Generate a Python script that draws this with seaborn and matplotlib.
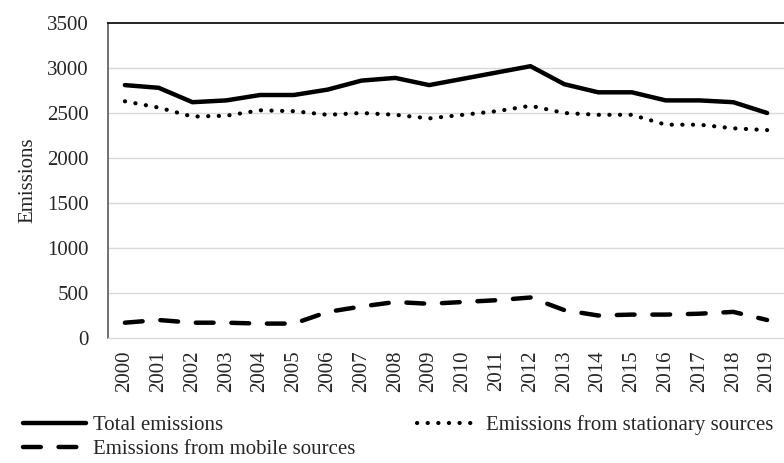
import matplotlib
matplotlib.use("Agg")
import matplotlib.pyplot as plt
import pandas as pd
import seaborn as sns

years = list(range(2000, 2020))
total = [2810, 2780, 2620, 2640, 2700, 2700, 2760, 2860, 2890, 2810,
         2880, 2950, 3020, 2820, 2730, 2730, 2640, 2640, 2620, 2500]
stationary = [2630, 2560, 2460, 2470, 2530, 2520, 2480, 2500, 2480, 2440,
              2480, 2520, 2580, 2500, 2480, 2480, 2370, 2370, 2330, 2310]
mobile = [170, 200, 170, 170, 160, 160, 290, 350, 400, 380,
          400, 420, 450, 310, 250, 260, 260, 270, 290, 200]

labels = ["Total emissions", "Emissions from mobile sources", "Emissions from stationary sources"]


def main() -> None:
    sns.set_theme(style="white")
    plt.rcParams["font.family"] = ["Liberation Serif", "DejaVu Serif"]

    df = pd.DataFrame({"year": years, "total": total, "stationary": stationary, "mobile": mobile})

    fig = plt.figure(figsize=(7.84, 4.63), dpi=100)
    ax = fig.add_axes([108 / 784, 1 - 338 / 463, 1 - 108 / 784, (338 - 23) / 463])

    for y in range(500, 3500, 500):
        ax.axhline(y, color="#d9d9d9", linewidth=1.0, zorder=0)

    sns.lineplot(data=df, x="year", y="total", color="black", linewidth=3.2,
                 solid_capstyle="round", label=labels[0], ax=ax)
    sns.lineplot(data=df, x="year", y="mobile", color="black", linewidth=3.2,
                 linestyle=(0, (4.0, 4.0)), dash_capstyle="round", label=labels[1], ax=ax)
    sns.lineplot(data=df, x="year", y="stationary", color="black", linewidth=3,
                 linestyle=(0, (0.05, 2.5)), dash_capstyle="round", label=labels[2], ax=ax)

    ax.set_xlim(1999.5, 2019.5)
    ax.set_ylim(0, 3500)
    ax.set_xticks(years)
    ax.set_xticklabels([str(y) for y in years], rotation=90, fontsize=15)
    ax.set_yticks(range(0, 3501, 500))
    ax.tick_params(axis="y", labelsize=15, length=0, pad=14)
    ax.tick_params(axis="x", length=0, pad=9)
    ax.set_xlabel("")
    ax.set_ylabel("Emissions", fontsize=15, labelpad=7)

    ax.spines["right"].set_visible(False)
    ax.spines["top"].set_color("black")
    ax.spines["top"].set_linewidth(1.2)
    ax.spines["left"].set_color("#595959")
    ax.spines["left"].set_linewidth(1.2)
    ax.spines["bottom"].set_color("#d9d9d9")
    ax.spines["bottom"].set_linewidth(1.0)

    handles, _ = ax.get_legend_handles_labels()
    ax.get_legend().remove()
    fig.legend(handles, labels, ncol=2, loc="upper left",
               bbox_to_anchor=(23 / 784, 1 - 415 / 463), frameon=False,
               fontsize=15, handlelength=3.0, handletextpad=0.35,
               columnspacing=2.95, labelspacing=0.22, borderaxespad=0, borderpad=0)

    fig.savefig("out.png", dpi=100)
    plt.close(fig)


if __name__ == "__main__":
    main()
